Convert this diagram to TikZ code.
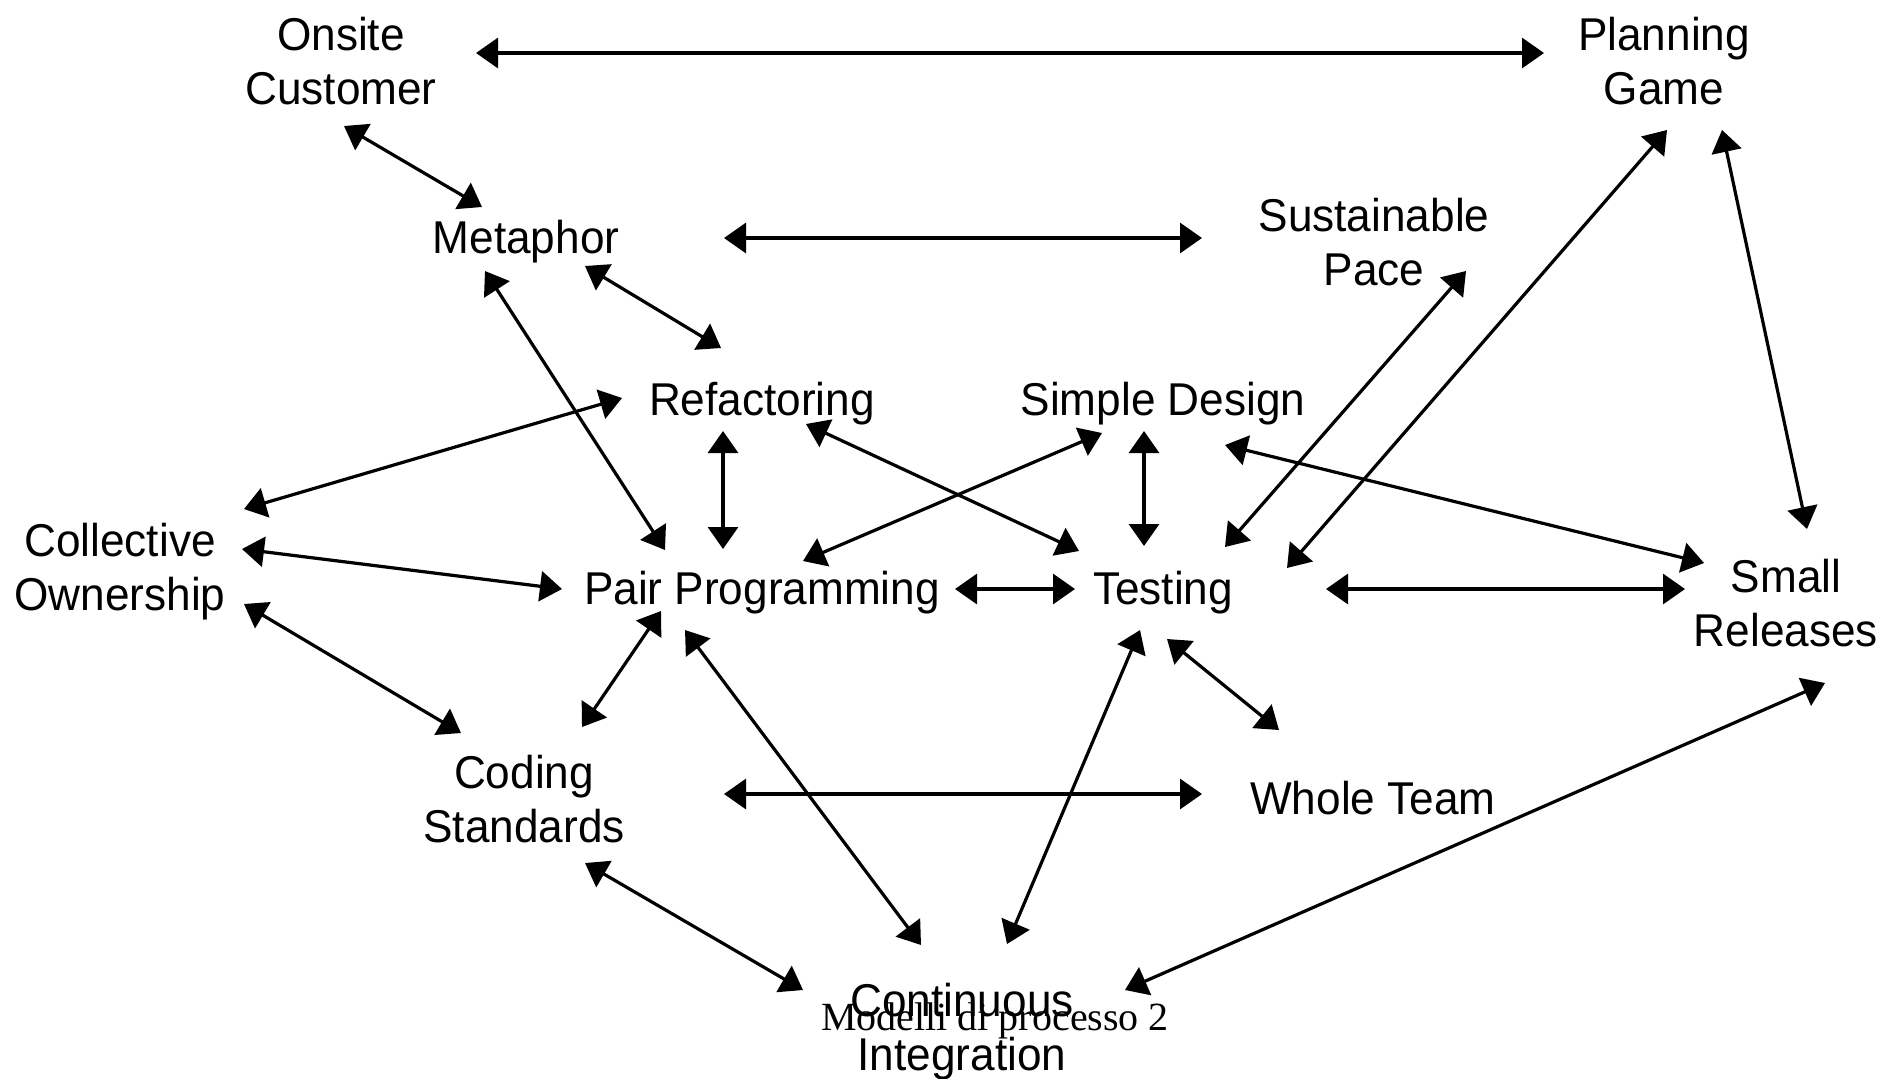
\documentclass[tikz,border=0pt]{standalone}
\usepackage{fontspec}
\setmainfont{Liberation Sans}[FakeStretch=0.96]
\newfontfamily\footserif{Liberation Serif}
\usetikzlibrary{arrows.meta,calc}
\begin{document}
\begin{tikzpicture}[x=0.5pt,y=-0.5pt,
  lbl/.style={align=center,inner sep=0pt,font=\fontsize{23}{27}\selectfont},
  arr/.style={line width=1.6pt,{Triangle[length=11pt,width=15pt]}-{Triangle[length=11pt,width=15pt]}}]
\useasboundingbox[fill=white] (0,0) rectangle (1888,1078);
\node[lbl] (onsite) at (341,61) {Onsite\\Customer};
\node[lbl] (plan) at (1664,61) {Planning\\Game};
\node[lbl] (meta) at (526,242) {Metaphor};
\node[lbl] (sust) at (1374,242) {Sustainable\\Pace};
\node[lbl] (refac) at (762,404) {Refactoring};
\node[lbl] (simple) at (1163,404) {Simple Design};
\node[lbl] (coll) at (120,572) {Collective\\Ownership};
\node[lbl] (pair) at (762,593) {Pair Programming};
\node[lbl] (test) at (1163,593) {Testing};
\node[lbl] (small) at (1786,603) {Small\\Releases};
\node[lbl] (coding) at (524,799) {Coding\\Standards};
\node[lbl] (whole) at (1373,798) {Whole Team};
\node[lbl] (cont) at (962,1032) {Continuous\\Integration};
\node[inner sep=0pt,font=\footserif\fontsize{20}{24}\selectfont] (foot) at (995,1021) {Modelli di processo 2};
\draw[arr] ($(onsite)+(135,-8)$) -- ($(plan)+(-120,-8)$);
\draw[arr] ($(onsite)+(3,65)$) -- ($(meta)+(-44,-35)$);
\draw[arr] ($(meta)+(198,-4)$) -- ($(sust)+(-172,-4)$);
\draw[arr] ($(meta)+(59,24)$) -- ($(refac)+(-41,-56)$);
\draw[arr] ($(meta)+(-41,29)$) -- ($(pair)+(-97,-43)$);
\draw[arr] ($(refac)+(-140,-6)$) -- ($(coll)+(124,-63)$);
\draw[arr] ($(refac)+(-39,27)$) -- ($(pair)+(-39,-44)$);
\draw[arr] ($(refac)+(44,20)$) -- ($(test)+(-84,-42)$);
\draw[arr] ($(simple)+(-61,29)$) -- ($(pair)+(41,-32)$);
\draw[arr] ($(simple)+(-19,27)$) -- ($(test)+(-19,-47)$);
\draw[arr] ($(simple)+(62,41)$) -- ($(small)+(-82,-40)$);
\draw[arr] ($(sust)+(92,29)$) -- ($(test)+(62,-46)$);
\draw[arr] ($(plan)+(3,69)$) -- ($(test)+(124,-25)$);
\draw[arr] ($(plan)+(58,69)$) -- ($(small)+(21,-74)$);
\draw[arr] ($(coll)+(122,-23)$) -- ($(pair)+(-200,-4)$);
\draw[arr] ($(coll)+(124,32)$) -- ($(coding)+(-63,-66)$);
\draw[arr] ($(pair)+(193,-4)$) -- ($(test)+(-88,-4)$);
\draw[arr] ($(test)+(163,-4)$) -- ($(small)+(-101,-14)$);
\draw[arr] ($(pair)+(-101,18)$) -- ($(coding)+(58,-72)$);
\draw[arr] ($(pair)+(-77,37)$) -- ($(cont)+(-41,-87)$);
\draw[arr] ($(test)+(-23,37)$) -- ($(cont)+(45,-88)$);
\draw[arr] ($(test)+(4,46)$) -- ($(whole)+(-94,-68)$);
\draw[arr] ($(coding)+(200,-5)$) -- ($(whole)+(-171,-4)$);
\draw[arr] ($(coding)+(61,64)$) -- ($(cont)+(-159,-42)$);
\draw[arr] ($(cont)+(163,-42)$) -- ($(small)+(39,80)$);
\end{tikzpicture}
\end{document}
